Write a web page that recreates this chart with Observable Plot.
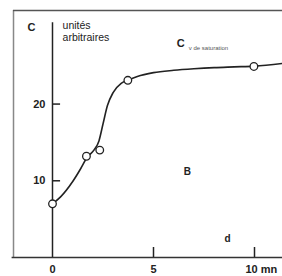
<!DOCTYPE html>
<html><head><meta charset="utf-8">
<script src="https://cdn.jsdelivr.net/npm/d3@7"></script>
<script src="https://cdn.jsdelivr.net/npm/@observablehq/plot@0.6"></script>
<style>body{margin:0;background:#fff}svg{display:block}</style>
</head><body><div id="chart"></div>
<script>
// measured points (time in min, C in arbitrary units)
const ptX = [0, 1.68, 2.34, 3.73, 9.97];
const ptY = [7.0, 13.2, 14.0, 23.1, 24.9];
// fitted curve
const curveX = [0, 0.4, 1.0, 1.4, 1.7, 2.05, 2.3, 2.5, 2.72, 3.0, 3.4, 3.73, 4.2, 5, 6, 7, 8, 9, 10, 11.4];
const curveY = [7.0, 7.9, 9.9, 11.6, 13.0, 14.0, 15.2, 17.4, 19.8, 21.5, 22.7, 23.1, 23.6, 24.1, 24.4, 24.6, 24.75, 24.85, 24.95, 25.3];
const xTicks = [0, 5, 10];
const xTickLabels = ["0", "5", "10 mn"];
const yTicks = [10, 20];
const yTickLabels = ["10", "20"];

const pts = ptX.map((x, i) => ({x, y: ptY[i]}));
const curve = curveX.map((x, i) => ({x, y: curveY[i]}));
const font = "Liberation Sans, Arial, sans-serif";

const chart = Plot.plot({
  width: 282, height: 276,
  marginLeft: 0, marginRight: 0, marginTop: 0, marginBottom: 19,
  x: {domain: [-2.574, 11.386], axis: null},
  y: {domain: [0, 33.5], axis: null},
  style: {fontFamily: font, background: "#fff"},
  marks: [
    // frame of the scanned figure
    Plot.ruleX([-1.93], {y1: 0, y2: 32.2, stroke: "#888", strokeWidth: 1.5}),
    Plot.ruleY([32.2], {x1: -1.93, x2: 11.386, stroke: "#555", strokeWidth: 1.5}),
    // axes
    Plot.ruleY([0], {x1: -2.0, x2: 11.386, stroke: "#333", strokeWidth: 1.5}),
    Plot.ruleX([0], {y1: 0, y2: 30.6, stroke: "#222", strokeWidth: 1.5}),
    Plot.ruleX(xTicks.slice(1), {y1: 0, y2: 1.3, stroke: "#222", strokeWidth: 1.5}),
    Plot.ruleY(yTicks, {x1: 0, x2: 0.4, stroke: "#222", strokeWidth: 1.5}),
    Plot.text(xTicks.slice(0, 2), {x: d => d, y: -1.55, text: (d, i) => xTickLabels[i], fontSize: 11, fontWeight: "bold", fill: "#222"}),
    Plot.text([xTicks[2]], {x: 9.55, y: -1.55, text: () => xTickLabels[2], textAnchor: "start", fontSize: 11, fontWeight: "bold", fill: "#222"}),
    Plot.text(yTicks, {x: -0.35, y: d => d, text: (d, i) => yTickLabels[i], textAnchor: "end", fontSize: 11, fontWeight: "bold", fill: "#222"}),
    // curve and points
    Plot.line(curve, {x: "x", y: "y", curve: "monotone-x", stroke: "#222", strokeWidth: 1.6}),
    Plot.dot(pts, {x: "x", y: "y", r: 3.8, fill: "#fff", stroke: "#222", strokeWidth: 1.3}),
    // labels
    Plot.text(["C"], {x: -1.04, y: 30.0, fontSize: 11, fontWeight: "bold", fill: "#222"}),
    Plot.text(["unités", "arbitraires"], {x: 0.5, y: (d, i) => i ? 28.6 : 30.2, textAnchor: "start", fontSize: 10.5, fontWeight: 500, fill: "#222"}),
    Plot.text(["C"], {x: 6.15, y: 27.9, textAnchor: "start", fontSize: 11, fontWeight: "bold", fill: "#222"}),
    Plot.text(["v de saturation"], {x: 6.75, y: 27.35, textAnchor: "start", fontSize: 6, letterSpacing: "1.5px", fill: "#555"}),
    Plot.text(["B"], {x: 6.68, y: 11.2, fontSize: 10, fontWeight: "bold", fill: "#222"}),
    Plot.text(["d"], {x: 8.66, y: 2.5, fontSize: 10, fontWeight: "bold", fill: "#222"})
  ]
});
document.getElementById("chart").appendChild(chart);
</script></body></html>
